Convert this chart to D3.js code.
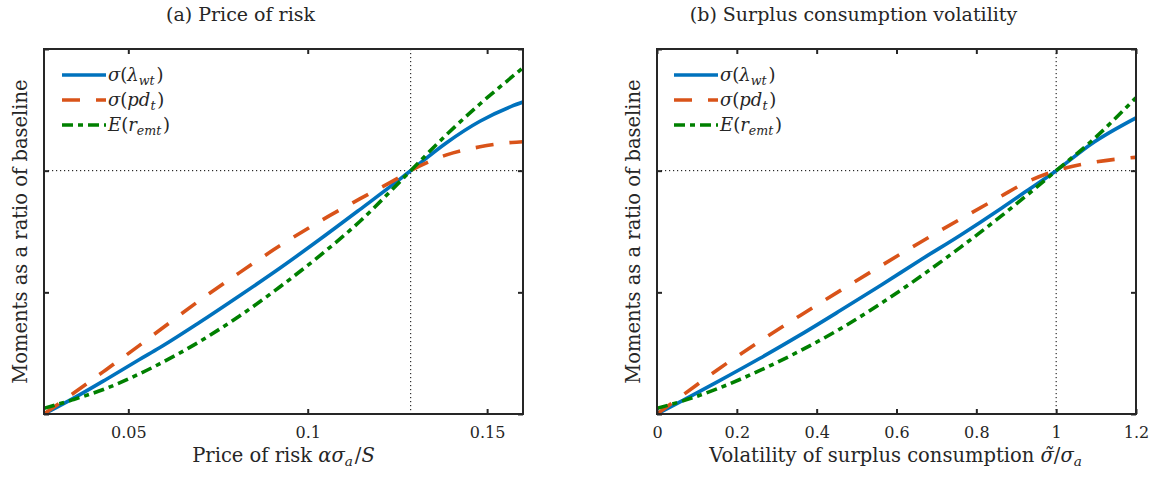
<!DOCTYPE html>
<html>
<head>
<meta charset="utf-8">
<script src="https://cdn.jsdelivr.net/npm/d3@7"></script>
<style>
  body { margin: 0; background: #fff; }
  svg text { font-family: "DejaVu Serif", "Liberation Serif", serif; fill: #262626; }
</style>
</head>
<body>
<script>
// panel (a): price of risk
const riskX      = [0.0265, 0.0344, 0.0438, 0.0531, 0.0587, 0.0698, 0.0810, 0.0922, 0.1034, 0.1145, 0.1257, 0.1287, 0.1387, 0.1480, 0.1569, 0.1600];
const riskLambda = [0, 0.062, 0.142, 0.224, 0.272, 0.376, 0.486, 0.599, 0.718, 0.840, 0.965, 1.0, 1.115, 1.203, 1.265, 1.282];
const riskPD     = [0, 0.082, 0.182, 0.282, 0.344, 0.466, 0.581, 0.691, 0.792, 0.884, 0.974, 1.0, 1.065, 1.098, 1.116, 1.119];
const riskER     = [0.0235, 0.058, 0.105, 0.165, 0.206, 0.297, 0.403, 0.522, 0.651, 0.791, 0.955, 1.0, 1.148, 1.274, 1.385, 1.423];
const riskTicks  = [0.05, 0.1, 0.15];
const riskBase   = 0.1287;

// panel (b): surplus consumption volatility
const volX      = [0, 0.065, 0.15, 0.258, 0.359, 0.459, 0.559, 0.66, 0.761, 0.862, 0.92, 1.0, 1.088, 1.2];
const volLambda = [0, 0.056, 0.131, 0.229, 0.325, 0.425, 0.527, 0.633, 0.736, 0.845, 0.910, 1.0, 1.110, 1.217];
const volPD     = [0, 0.078, 0.180, 0.299, 0.405, 0.507, 0.607, 0.706, 0.802, 0.895, 0.948, 1.0, 1.033, 1.055];
const volER     = [0.0235, 0.054, 0.103, 0.179, 0.260, 0.350, 0.452, 0.565, 0.686, 0.813, 0.890, 1.0, 1.121, 1.300];
const volTicks  = [0, 0.2, 0.4, 0.6, 0.8, 1, 1.2];
const volBase   = 1;

const yTicks = [0, 0.5, 1, 1.5];

const W = 1161, H = 480,
    plotTop = 49, ph = 365, pw = 479;

const svg = d3.select("body").append("svg")
    .attr("width", W)
    .attr("height", H);

const styles = [
  {color: "#0072BD", dash: null},
  {color: "#D95319", dash: "18,16"},
  {color: "#008000", dash: "11,5,5,5"}
];

function drawPanel(p) {
  const g = svg.append("g")
      .attr("transform", "translate(" + p.left + "," + plotTop + ")");

  const x = d3.scaleLinear().domain(p.domain).range([0, pw]);
  const y = d3.scaleLinear().domain([0, 1.5]).range([ph, 0]);

  g.append("clipPath").attr("id", "clip" + p.id)
    .append("rect").attr("width", pw).attr("height", ph);

  const plot = g.append("g").attr("clip-path", "url(#clip" + p.id + ")");

  // reference lines at the baseline
  plot.append("line")
      .attr("x1", 0).attr("x2", pw)
      .attr("y1", y(1)).attr("y2", y(1))
      .attr("stroke", "#000").attr("stroke-width", 1)
      .attr("stroke-dasharray", "1.2,2.8");
  plot.append("line")
      .attr("x1", x(p.base)).attr("x2", x(p.base))
      .attr("y1", 0).attr("y2", ph)
      .attr("stroke", "#000").attr("stroke-width", 1)
      .attr("stroke-dasharray", "1.2,2.8");

  const line = d3.line()
      .x(function(d) { return x(d[0]); })
      .y(function(d) { return y(d[1]); })
      .curve(d3.curveMonotoneX);

  p.series.forEach(function(s, i) {
    plot.append("path")
        .datum(p.xs.map(function(v, j) { return [v, s[j]]; }))
        .attr("fill", "none")
        .attr("stroke", styles[i].color)
        .attr("stroke-width", 3.6)
        .attr("stroke-dasharray", styles[i].dash)
        .attr("d", line);
  });

  // axes with inward ticks on all sides
  const bottom = g.append("g")
      .attr("transform", "translate(0," + ph + ")")
      .call(d3.axisBottom(x).tickValues(p.ticks).tickSize(-5).tickPadding(13)
          .tickFormat(function(d) { return String(d); }));
  bottom.selectAll("text").style("font-size", "16px");

  g.append("g")
      .call(d3.axisTop(x).tickValues(p.ticks).tickSize(-5).tickFormat(""));
  g.append("g")
      .call(d3.axisLeft(y).tickValues(yTicks).tickSize(-5).tickFormat(""));
  g.append("g")
      .attr("transform", "translate(" + pw + ",0)")
      .call(d3.axisRight(y).tickValues(yTicks).tickSize(-5).tickFormat(""));

  g.selectAll(".domain").remove();
  g.selectAll(".tick line").attr("stroke", "#262626").attr("stroke-width", 2);

  g.append("rect")
      .attr("width", pw).attr("height", ph)
      .attr("fill", "none")
      .attr("stroke", "#262626")
      .attr("stroke-width", 2);

  // legend
  const legend = g.append("g").attr("transform", "translate(" + p.legendX + ",0)");
  p.legend.forEach(function(lab, i) {
    const ly = 26 + i * 25;
    legend.append("line")
        .attr("x1", 0).attr("x2", 44)
        .attr("y1", ly).attr("y2", ly)
        .attr("stroke", styles[i].color)
        .attr("stroke-width", 3.6)
        .attr("stroke-dasharray", styles[i].dash);
    const t = legend.append("text")
        .attr("x", 46).attr("y", ly + 6)
        .style("font-size", "18px");
    lab(t);
  });

  // titles and labels
  svg.append("text")
      .attr("x", p.left + pw / 2 - 43).attr("y", 21)
      .attr("text-anchor", "middle")
      .style("font-size", "19px")
      .text(p.title);

  const xl = svg.append("text")
      .attr("x", p.left + pw / 2).attr("y", 461.5)
      .attr("text-anchor", "middle")
      .style("font-size", "19.5px");
  p.xlabel(xl);

  svg.append("text")
      .attr("transform", "translate(" + (p.left - 17) + "," + (plotTop + ph / 2) + ") rotate(-90)")
      .attr("text-anchor", "middle")
      .style("font-size", "19.5px")
      .text("Moments as a ratio of baseline");
}

function sub(t, s) {
  t.append("tspan").attr("dy", 4).style("font-size", "0.7em").style("font-style", "italic").text(s);
  t.append("tspan").attr("dy", -4).text("\u200a");
}

const legendLabels = [
  function(t) {
    t.append("tspan").style("font-style", "italic").text("σ");
    t.append("tspan").text("(");
    t.append("tspan").style("font-style", "italic").text("λ");
    sub(t, "wt");
    t.append("tspan").text(")");
  },
  function(t) {
    t.append("tspan").style("font-style", "italic").text("σ");
    t.append("tspan").text("(");
    t.append("tspan").style("font-style", "italic").text("pd");
    sub(t, "t");
    t.append("tspan").text(")");
  },
  function(t) {
    t.append("tspan").style("font-style", "italic").text("E");
    t.append("tspan").text("(");
    t.append("tspan").style("font-style", "italic").text("r");
    sub(t, "emt");
    t.append("tspan").text(")");
  }
];

drawPanel({
  id: "a", left: 44, legendX: 18,
  domain: [0.0265, 0.16], base: riskBase, ticks: riskTicks,
  xs: riskX, series: [riskLambda, riskPD, riskER],
  legend: legendLabels,
  title: "(a) Price of risk",
  xlabel: function(t) {
    t.append("tspan").text("Price of risk ");
    t.append("tspan").style("font-style", "italic").text("ασ");
    sub(t, "a");
    t.append("tspan").text("/");
    t.append("tspan").style("font-style", "italic").text("S");
  }
});

drawPanel({
  id: "b", left: 657, legendX: 17,
  domain: [0, 1.2], base: volBase, ticks: volTicks,
  xs: volX, series: [volLambda, volPD, volER],
  legend: legendLabels,
  title: "(b) Surplus consumption volatility",
  xlabel: function(t) {
    t.append("tspan").text("Volatility of surplus consumption ");
    t.append("tspan").style("font-style", "italic").text("σ\u0303");
    t.append("tspan").text("/");
    t.append("tspan").style("font-style", "italic").text("σ");
    sub(t, "a");
  }
});
</script>
</body>
</html>
